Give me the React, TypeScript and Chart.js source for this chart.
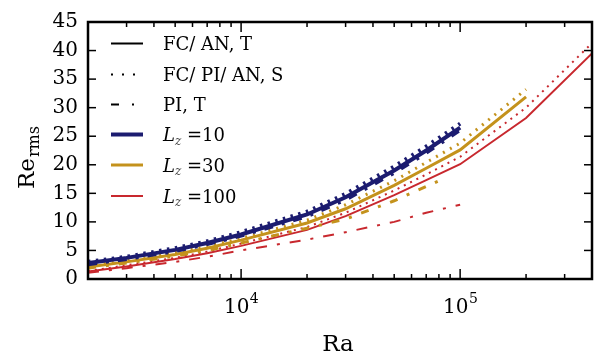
import { useEffect, useRef } from 'react';
import { Chart, registerables } from 'chart.js';

Chart.register(...registerables);

// ---- data ----
const ra10 = [2000, 3000, 5000, 7000, 10000, 20000, 30000, 50000, 70000, 100000];
const ra30 = [2000, 3000, 5000, 7000, 10000, 20000, 30000, 50000, 70000, 100000, 200000];
const ra30pi = [2000, 3000, 5000, 7000, 10000, 20000, 30000, 50000, 80000];
const ra100 = [2000, 3000, 5000, 7000, 10000, 20000, 30000, 50000, 70000, 100000, 200000, 400000];
const ra100pi = [2000, 3000, 5000, 7000, 10000, 20000, 30000, 50000, 70000, 100000];

const lz10T = [2.8, 3.7, 5.1, 6.3, 7.8, 11.3, 14.3, 19.0, 22.5, 26.5];
const lz10S = [3.0, 3.9, 5.4, 6.6, 8.2, 11.8, 14.9, 19.7, 23.2, 27.2];
const lz10PI = [2.6, 3.5, 4.9, 6.1, 7.6, 11.0, 13.9, 18.6, 22.1, 26.1];

const lz30T = [2.1, 3.0, 4.3, 5.4, 6.8, 9.8, 12.3, 16.4, 19.4, 22.6, 31.9];
const lz30S = [2.3, 3.2, 4.6, 5.7, 7.1, 10.3, 13.0, 17.2, 20.4, 23.8, 33.2];
const lz30PI = [1.9, 2.8, 4.0, 5.0, 6.3, 8.9, 10.5, 13.7, 17.2];

const lz100T = [1.3, 2.2, 3.5, 4.5, 5.8, 8.6, 11.0, 14.7, 17.3, 20.1, 28.2, 39.5];
const lz100S = [1.4, 2.4, 3.7, 4.8, 6.2, 9.1, 11.6, 15.5, 18.3, 21.4, 30.0, 41.3];
const lz100PI = [1.1, 1.9, 3.0, 3.9, 5.0, 6.9, 8.2, 10.0, 11.6, 13.0];

const yTickValues = [0, 5, 10, 15, 20, 25, 30, 35, 40, 45];
const xMajorTicks = [10000, 100000];
const xMajorExponents = ['4', '5'];
const xMinorTicks = [2000, 3000, 4000, 5000, 6000, 7000, 8000, 9000, 20000, 30000, 40000, 50000, 60000, 70000, 80000, 90000, 200000, 300000, 400000];

const styleLabels = ['FC/ AN, T', 'FC/ PI/ AN, S', 'PI, T'];
const lzLabels = ['10', '30', '100'];

const NAVY = '#1c1c70';
const GOLD = '#c4921c';
const RED = '#c8282e';

const SERIF = '"DejaVu Serif", "Liberation Serif", serif';

const pts = (xs: number[], ys: number[]) => xs.map((x, i) => ({ x, y: ys[i] }));

function ds(xs: number[], ys: number[], color: string, width: number, dash: number[]) {
  return {
    data: pts(xs, ys),
    borderColor: color,
    backgroundColor: color,
    borderWidth: width,
    borderDash: dash,
    pointRadius: 0,
    tension: 0,
    fill: false,
  };
}

const overlay = {
  id: 'overlay',
  afterDraw(chart: any) {
    const { ctx, chartArea: a, scales } = chart;
    const x = scales.x;
    const y = scales.y;
    ctx.save();
    ctx.strokeStyle = '#000';
    ctx.fillStyle = '#000';
    const line = (x1: number, y1: number, x2: number, y2: number) => {
      ctx.beginPath();
      ctx.moveTo(x1, y1);
      ctx.lineTo(x2, y2);
      ctx.stroke();
    };
    // ticks
    ctx.lineWidth = 1.5;
    ctx.setLineDash([]);
    for (const v of yTickValues) {
      const py = y.getPixelForValue(v);
      line(a.left, py, a.left + 8, py);
      line(a.right - 8, py, a.right, py);
    }
    for (const v of xMajorTicks) {
      const px = x.getPixelForValue(v);
      line(px, a.bottom, px, a.bottom - 10);
      line(px, a.top, px, a.top + 10);
    }
    for (const v of xMinorTicks) {
      const px = x.getPixelForValue(v);
      line(px, a.bottom, px, a.bottom - 5);
      line(px, a.top, px, a.top + 5);
    }
    // frame
    ctx.lineWidth = 2.5;
    ctx.strokeRect(a.left, a.top, a.right - a.left, a.bottom - a.top);

    // x tick labels 10^n
    ctx.textBaseline = 'alphabetic';
    ctx.textAlign = 'left';
    xMajorTicks.forEach((v, i) => {
      const px = x.getPixelForValue(v);
      ctx.font = `20px ${SERIF}`;
      const wb = ctx.measureText('10').width;
      ctx.font = `14px ${SERIF}`;
      const we = ctx.measureText(xMajorExponents[i]).width;
      const start = px - (wb + we) / 2;
      ctx.font = `20px ${SERIF}`;
      ctx.fillText('10', start, a.bottom + 34);
      ctx.font = `14px ${SERIF}`;
      ctx.fillText(xMajorExponents[i], start + wb + 0.5, a.bottom + 24);
    });

    // x title
    ctx.font = `23px ${SERIF}`;
    ctx.textAlign = 'center';
    ctx.fillText('Ra', (a.left + a.right) / 2 - 2, 351);

    // y title
    ctx.save();
    ctx.translate(34, 189);
    ctx.rotate(-Math.PI / 2);
    ctx.textAlign = 'left';
    ctx.font = `23px ${SERIF}`;
    ctx.fillText('Re', 0, 0);
    const wRe = ctx.measureText('Re').width;
    ctx.font = `16px ${SERIF}`;
    ctx.fillText('rms', wRe + 1, 5);
    ctx.restore();

    // legend
    const rowY = [43.5, 74.5, 104.5, 134.5, 165, 196];
    const sx1 = 111;
    const sx2 = 143;
    const tx = 163;
    const styleDashes = [[], [2, 9], [8, 13, 2, 13]];
    ctx.textAlign = 'left';
    styleLabels.forEach((lab, i) => {
      const cy = rowY[i];
      ctx.strokeStyle = '#000';
      ctx.lineWidth = 2;
      ctx.setLineDash(styleDashes[i]);
      line(sx1, cy, sx2, cy);
      ctx.setLineDash([]);
      ctx.font = `18px ${SERIF}`;
      ctx.fillText(lab, tx, cy + 6.5);
    });
    const lzColors = [NAVY, GOLD, RED];
    const lzWidths = [4, 3, 2];
    lzLabels.forEach((lab, j) => {
      const cy = rowY[3 + j];
      ctx.strokeStyle = lzColors[j];
      ctx.lineWidth = lzWidths[j];
      ctx.setLineDash([]);
      line(sx1, cy, sx2, cy);
      ctx.fillStyle = '#000';
      ctx.font = `italic 18px ${SERIF}`;
      ctx.fillText('L', tx, cy + 6.5);
      const wL = ctx.measureText('L').width;
      ctx.font = `italic 12px ${SERIF}`;
      ctx.fillStyle = '#444';
      ctx.fillText('z', tx + wL, cy + 10);
      ctx.fillStyle = '#000';
      ctx.font = `18px ${SERIF}`;
      ctx.fillText('=', 187, cy + 6.5);
      const wEq = ctx.measureText('=').width;
      ctx.fillText(lab, 187 + wEq, cy + 6.5);
    });
    ctx.restore();
  },
};

export default function App() {
  const ref = useRef<HTMLCanvasElement | null>(null);
  useEffect(() => {
    document.body.style.margin = '0';
    const canvas = ref.current;
    if (!canvas) return;
    const chart = new Chart(canvas, {
      type: 'line',
      data: {
        datasets: [
          ds(ra10, lz10S, NAVY, 4, [2.5, 5.5]),
          ds(ra10, lz10PI, NAVY, 4, [9, 9, 3, 9]),
          ds(ra10, lz10T, NAVY, 4, []),
          ds(ra30, lz30S, GOLD, 3, [2, 6]),
          ds(ra30pi, lz30PI, GOLD, 3, [8, 10, 3, 10]),
          ds(ra30, lz30T, GOLD, 3, []),
          ds(ra100, lz100S, RED, 2, [2, 5]),
          ds(ra100pi, lz100PI, RED, 2, [11, 10, 3, 10]),
          ds(ra100, lz100T, RED, 2, []),
        ] as any,
      },
      options: {
        responsive: false,
        animation: false,
        layout: { padding: { top: 16, right: 20, left: 0, bottom: 0 } },
        plugins: { legend: { display: false }, tooltip: { enabled: false } },
        scales: {
          x: {
            type: 'logarithmic',
            min: 2000,
            max: 400000,
            ticks: { display: false },
            grid: { display: false },
            border: { display: false },
            afterFit: (s: any) => {
              s.height = 79;
            },
          },
          y: {
            min: 0,
            max: 45,
            ticks: {
              stepSize: 5,
              color: '#000',
              padding: 10,
              font: { family: SERIF, size: 20 },
            },
            grid: { display: false, drawTicks: false },
            border: { display: false },
            afterFit: (s: any) => {
              s.width = 88;
            },
          },
        },
      } as any,
      plugins: [overlay],
    });
    return () => chart.destroy();
  }, []);
  return (
    <div style={{ width: 612, height: 358 }}>
      <canvas ref={ref} width={612} height={358} style={{ display: 'block' }} />
    </div>
  );
}
